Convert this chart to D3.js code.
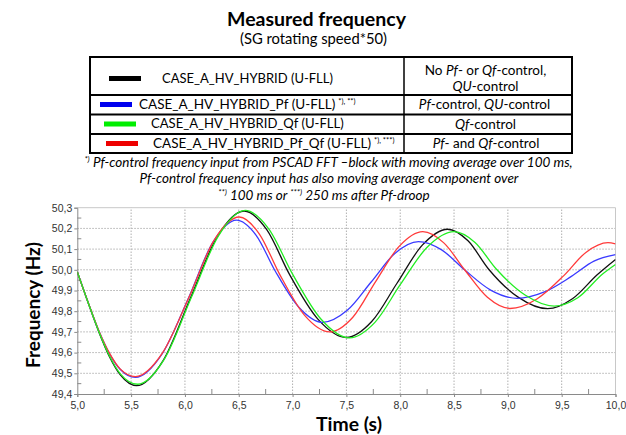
<!DOCTYPE html>
<html><head><meta charset="utf-8">
<script src="https://cdn.jsdelivr.net/npm/d3@7"></script>
<style>body{margin:0;background:#fff}svg{display:block}</style>
</head><body>
<svg id="c" width="626" height="435"></svg>
<script>
// ---- data ----
const xTicks = [5.0,5.5,6.0,6.5,7.0,7.5,8.0,8.5,9.0,9.5,10.0];
const yTicks = [49.4,49.5,49.6,49.7,49.8,49.9,50.0,50.1,50.2,50.3];

const blackT = [5.0,5.1,5.2,5.3,5.4,5.55,5.80,6.05,6.30,6.55,6.76,6.97,7.235,7.50,7.735,7.97,8.205,8.44,8.63,8.82,9.095,9.37,9.60,9.83,10.0];
const blackF = [49.99,49.842,49.700,49.579,49.492,49.44,49.564,49.862,50.160,50.284,50.194,49.979,49.762,49.673,49.750,49.935,50.119,50.196,50.140,50.004,49.868,49.812,49.860,49.976,50.05];

const blueT = [5.0,5.1,5.2,5.3,5.4,5.54,5.785,6.03,6.255,6.48,6.66,6.84,7.06,7.28,7.505,7.73,7.95,8.17,8.385,8.60,8.84,9.085,9.34,9.59,9.80,10.0];
const blueF = [49.99,49.843,49.705,49.594,49.518,49.48,49.591,49.86,50.129,50.24,50.168,49.993,49.818,49.746,49.803,49.941,50.079,50.136,50.096,49.999,49.902,49.862,49.893,49.968,50.042,50.073];

const greenT = [5.0,5.1,5.2,5.3,5.4,5.56,5.81,6.06,6.31,6.56,6.78,7.00,7.265,7.53,7.765,8.0,8.25,8.50,8.695,8.89,9.16,9.43,9.65,9.88,10.0];
const greenF = [49.99,49.842,49.702,49.582,49.497,49.447,49.570,49.867,50.163,50.287,50.197,49.979,49.761,49.671,49.746,49.928,50.109,50.184,50.132,50.005,49.878,49.825,49.865,49.98,50.026];

const redT = [5.0,5.1,5.2,5.3,5.4,5.54,5.79,6.04,6.27,6.505,6.69,6.88,7.11,7.345,7.56,7.77,7.99,8.21,8.405,8.60,8.81,9.02,9.27,9.52,9.725,9.93,10.0];
const redF = [49.99,49.843,49.706,49.596,49.52,49.484,49.597,49.87,50.142,50.255,50.174,49.978,49.781,49.70,49.771,49.942,50.113,50.184,50.13,49.999,49.867,49.813,49.859,49.972,50.084,50.131,50.125];

const seriesNames = ["CASE_A_HV_HYBRID (U-FLL)","CASE_A_HV_HYBRID_Pf (U-FLL)","CASE_A_HV_HYBRID_Qf (U-FLL)","CASE_A_HV_HYBRID_Pf_Qf (U-FLL)"];

// ---- drawing ----
const svg = d3.select("#c");
const FONT = "Lato, 'Open Sans', sans-serif";
svg.append("rect").attr("width",626).attr("height",435).attr("fill","#fff");

function fit(sel, w){ return sel.attr("textLength",w).attr("lengthAdjust","spacingAndGlyphs"); }
function squeeze(t, ax, w){
  const nat = t.node().getBBox().width;
  const k = Math.min(1, w/nat);
  if (k < 1) t.attr("transform",`translate(${ax},0) scale(${k},1) translate(${-ax},0)`);
  return t;
}

// Title
fit(svg.append("text").attr("x",316.5).attr("y",25.5).attr("text-anchor","middle")
  .attr("font-family",FONT).attr("font-weight","bold").attr("font-size",19.5).text("Measured frequency"),179);
fit(svg.append("text").attr("x",313.5).attr("y",44).attr("text-anchor","middle")
  .attr("font-family",FONT).attr("font-size",15).text("(SG rotating speed*50)"),147);

// Legend table
const tb = {l:90, r:572, m:404, rows:[57,95,114.5,134,153]};
const tg = svg.append("g");
tg.append("rect").attr("x",tb.l).attr("y",tb.rows[0]).attr("width",tb.r-tb.l).attr("height",tb.rows[4]-tb.rows[0])
  .attr("fill","none").attr("stroke","#000").attr("stroke-width",2);
[1,2,3].forEach(i=>tg.append("line").attr("x1",tb.l).attr("x2",tb.r).attr("y1",tb.rows[i]).attr("y2",tb.rows[i]).attr("stroke","#000").attr("stroke-width",2));
tg.append("line").attr("x1",tb.m).attr("x2",tb.m).attr("y1",tb.rows[0]).attr("y2",tb.rows[4]).attr("stroke","#000").attr("stroke-width",1.5);

const swColors = ["#000000","#0000ee","#00ee00","#ee0000"];
const swX = [109,100,104,106];
const txX = [162,139,151,153];
const txW = [171,225,193,245];
const rowBase = [83,109,128.5,148];
const sups = ["", "*), **)", "", "*), ***)"];
const TS = 13.5;
seriesNames.forEach((n,i)=>{
  const cy = rowBase[i]-4.5;
  tg.append("rect").attr("x",swX[i]).attr("y",cy-2.5).attr("width",32).attr("height",5).attr("fill",swColors[i]);
  const t = tg.append("text").attr("x",txX[i]).attr("y",rowBase[i]).attr("font-family",FONT).attr("font-size",TS);
  t.append("tspan").text(n);
  if (sups[i]) { t.append("tspan").attr("dx",3).attr("dy",-5).attr("font-size",7.5).text(sups[i]); }
  squeeze(t, txX[i], txW[i]);
});

function richText(g, x, y, parts, size, w){
  const t = g.append("text").attr("x",x).attr("y",y).attr("text-anchor","middle").attr("font-family",FONT).attr("font-size",size);
  parts.forEach(p=>{
    const s = t.append("tspan").text(p[0]);
    if (p[1]==="i") s.attr("font-style","italic");
    if (p[1]==="supi") s.attr("font-size",size*0.6).attr("dy",-5).attr("font-style","italic");
    if (p[2]) s.attr("dy",p[2]);
  });
  if (w) squeeze(t, x, w);
  return t;
}
richText(tg, 485.5, 74.5, [["No "],["Pf","i"],["- or "],["Qf","i"],["-control,"]], TS, 124);
richText(tg, 485.5, 91, [["QU","i"],["-control"]], TS, 68);
richText(tg, 484.5, 109, [["Pf","i"],["-control, "],["QU","i"],["-control"]], TS, 137);
richText(tg, 485.5, 128.5, [["Qf","i"],["-control"]], TS, 64);
richText(tg, 486, 148, [["Pf","i"],["- and "],["Qf","i"],["-control"]], TS, 109);

// Footnotes
const fn = svg.append("g").attr("font-style","italic");
const FS = 13.5;
richText(fn, 328.5, 166.5, [["*)","supi"],[" Pf-control frequency input from PSCAD FFT \u2013block with moving average over 100 ms,","i",5]], FS, 489);
richText(fn, 329, 183, [["Pf-control frequency input has also moving average component over","i"]], FS, 386);
richText(fn, 324, 200, [["**)","supi"],[" 100 ms or ","i",5],["***)","supi",-5],[" 250 ms after Pf-droop","i",5]], FS, 228);

// Plot
const x = d3.scaleLinear().domain([5,10]).range([77.3,615.5]);
const y = d3.scaleLinear().domain([49.4,50.3]).range([394,207.7]);
const pg = svg.append("g");

// grid
pg.selectAll(".gx").data(xTicks.slice(1,-1)).join("line")
  .attr("x1",d=>x(d)).attr("x2",d=>x(d)).attr("y1",y(49.4)).attr("y2",y(50.3))
  .attr("stroke","#b0b0b0").attr("stroke-width",1).attr("stroke-dasharray","1.5,1.5");
pg.selectAll(".gy").data(yTicks.slice(1,-1)).join("line")
  .attr("y1",d=>y(d)).attr("y2",d=>y(d)).attr("x1",x(5)).attr("x2",x(10))
  .attr("stroke","#b0b0b0").attr("stroke-width",1).attr("stroke-dasharray","1.5,1.5");
// frame top/right
pg.append("line").attr("x1",x(5)).attr("x2",x(10)).attr("y1",y(50.3)).attr("y2",y(50.3)).attr("stroke","#c8c8c8");
pg.append("line").attr("x1",x(10)).attr("x2",x(10)).attr("y1",y(50.3)).attr("y2",y(49.4)).attr("stroke","#c8c8c8");

// axes
const fmt = d=>d3.format(".1f")(d).replace(".",",");
const xAxis = d3.axisBottom(x).tickValues(xTicks).tickFormat(fmt).tickSizeOuter(0).tickSize(3).tickPadding(5);
const yAxis = d3.axisLeft(y).tickValues(yTicks).tickFormat(fmt).tickSizeOuter(0).tickSize(3).tickPadding(2);
const gx = pg.append("g").attr("transform",`translate(0,${y(49.4)})`).call(xAxis);
const gy = pg.append("g").attr("transform",`translate(${x(5)},0)`).call(yAxis);
[gx,gy].forEach(g=>{
  g.select(".domain").attr("stroke","#8a8a8a");
  g.selectAll(".tick line").attr("stroke","#8a8a8a");
  g.selectAll("text").attr("font-family","'Liberation Sans', Arial, sans-serif").attr("font-size",10.5).attr("fill","#333");
});
// minor ticks
const xMinor = d3.range(5.25,10,0.5);
pg.selectAll(".mx").data(xMinor).join("line").attr("x1",d=>x(d)).attr("x2",d=>x(d))
  .attr("y1",y(49.4)).attr("y2",y(49.4)-5).attr("stroke","#8a8a8a");
const yMinor = d3.range(49.45,50.3,0.1);
pg.selectAll(".my").data(yMinor).join("line").attr("y1",d=>y(d)).attr("y2",d=>y(d))
  .attr("x1",x(5)).attr("x2",x(5)+4).attr("stroke","#8a8a8a");

// lines
const series = [
  {t:blackT,f:blackF,c:"#111111"},
  {t:blueT,f:blueF,c:"#3a3aff"},
  {t:redT,f:redF,c:"#ff3a3a"},
  {t:greenT,f:greenF,c:"#22ee22"},
];
const line = d3.line().x(d=>x(d[0])).y(d=>y(d[1])).curve(d3.curveMonotoneX);
svg.append("clipPath").attr("id","pc").append("rect")
  .attr("x",x(5)).attr("y",y(50.3)).attr("width",x(10)-x(5)).attr("height",y(49.4)-y(50.3));
series.forEach(s=>{
  pg.append("path").datum(s.t.map((t,k)=>[t,s.f[k]]))
    .attr("d",line).attr("fill","none").attr("stroke",s.c).attr("stroke-width",1.3)
    .attr("clip-path","url(#pc)");
});

// axis titles
fit(svg.append("text").attr("transform","translate(40,305) rotate(-90)").attr("text-anchor","middle")
  .attr("font-family",FONT).attr("font-weight","bold").attr("font-size",19.5).text("Frequency (Hz)"),126);
fit(svg.append("text").attr("x",349).attr("y",431).attr("text-anchor","middle")
  .attr("font-family",FONT).attr("font-weight","bold").attr("font-size",19.5).text("Time (s)"),66);
</script>
</body></html>
